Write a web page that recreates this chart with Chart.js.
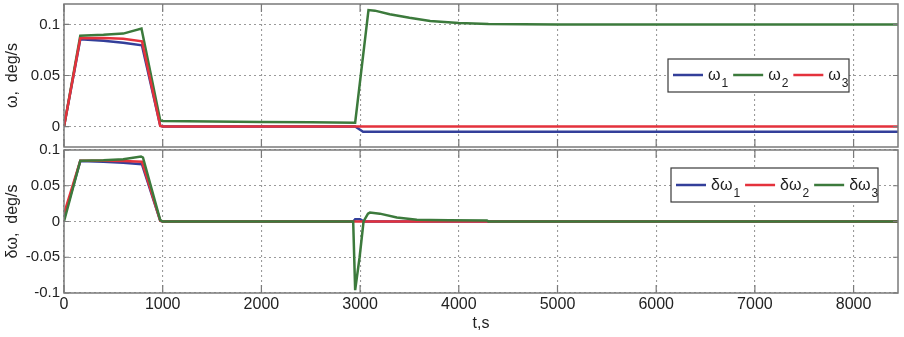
<!DOCTYPE html>
<html>
<head>
<meta charset="utf-8">
<script src="https://cdn.jsdelivr.net/npm/chart.js@4/dist/chart.umd.min.js"></script>
<style>
  body { margin: 0; background: #fff; }
  #wrap { position: relative; width: 904px; height: 337px; }
  canvas { position: absolute; left: 0; }
  #top { top: 0; }
  #bottom { top: 130px; }
</style>
</head>
<body>
<div id="wrap">
  <canvas id="top" width="904" height="150"></canvas>
  <canvas id="bottom" width="904" height="207"></canvas>
</div>
<script>
// axes
const xTicks = [0, 1000, 2000, 3000, 4000, 5000, 6000, 7000, 8000];
const xTickLabels = ["0", "1000", "2000", "3000", "4000", "5000", "6000", "7000", "8000"];
const topTicks = [0, 0.05, 0.1];
const topTickLabels = ["0", "0.05", "0.1"];
const botTicks = [-0.1, -0.05, 0, 0.05, 0.1];
const botTickLabels = ["-0.1", "-0.05", "0", "0.05", "0.1"];

// omega, deg/s (top panel)
const w1T = [0, 165, 400, 600, 790, 975, 1000, 2950, 3030, 8450];
const w1V = [0, 0.0855, 0.084, 0.082, 0.0795, 0.001, 0, 0, -0.005, -0.005];
const w2T = [0, 165, 400, 600, 785, 975, 1000, 1500, 2000, 2500, 2950, 3085, 3150, 3300, 3500, 3710, 4000, 4300, 5000, 8450];
const w2V = [0, 0.089, 0.0898, 0.091, 0.096, 0.006, 0.0055, 0.0049, 0.0045, 0.0042, 0.0038, 0.114, 0.1135, 0.110, 0.1065, 0.1034, 0.1015, 0.1005, 0.1, 0.1];
const w3T = [0, 165, 400, 600, 790, 975, 1000, 8450];
const w3V = [0, 0.0865, 0.0868, 0.086, 0.0835, 0.0005, 0, 0];

// delta omega, deg/s (bottom panel)
const d1T = [0, 165, 400, 600, 790, 975, 1000, 2930, 2950, 3000, 3040, 8450];
const d1V = [0.005, 0.0845, 0.0835, 0.082, 0.080, 0.001, 0, 0, 0.003, 0.003, 0, 0];
const d2T = [0, 165, 400, 600, 790, 975, 1000, 8450];
const d2V = [0.011, 0.085, 0.085, 0.0845, 0.0835, 0.001, 0, 0];
const d3T = [0, 165, 400, 600, 780, 800, 975, 1000, 2930, 2950, 2995, 3035, 3080, 3100, 3200, 3372, 3575, 3710, 3900, 4285, 4300, 8450];
const d3V = [0, 0.085, 0.0855, 0.087, 0.091, 0.0895, 0.002, 0, 0, -0.096, -0.05, 0, 0.011, 0.0125, 0.011, 0.0056, 0.0025, 0.002, 0.0018, 0.0015, 0, 0];

const BLUE = "#333f9a", GREEN = "#3c7a3c", RED = "#e4323c";
const FRAME = "#7a7a7a", TEXT = "#222";
const FONT = "Liberation Sans, Arial, sans-serif";

const pts = (t, v) => t.map((x, i) => ({ x: x, y: v[i] }));

function series(label, t, v, color, order) {
  return { label, data: pts(t, v), borderColor: color, borderWidth: 2.5,
           pointRadius: 0, tension: 0, fill: false, order };
}

// frame + inward ticks, matlab style
const frameTicks = {
  id: "frameTicks",
  afterDatasetsDraw(chart) {
    const { ctx, chartArea: a, scales } = chart;
    ctx.save();
    ctx.strokeStyle = FRAME;
    ctx.lineWidth = 1.2;
    ctx.beginPath();
    xTicks.forEach(v => {
      const px = scales.x.getPixelForValue(v);
      ctx.moveTo(px, a.bottom); ctx.lineTo(px, a.bottom - 8);
      ctx.moveTo(px, a.top); ctx.lineTo(px, a.top + 8);
    });
    scales.y.ticks.forEach(t => {
      const py = scales.y.getPixelForValue(t.value);
      ctx.moveTo(a.left, py); ctx.lineTo(a.left + 5, py);
      ctx.moveTo(a.right, py); ctx.lineTo(a.right - 5, py);
    });
    ctx.stroke();
    ctx.lineWidth = 1.5;
    ctx.strokeRect(a.left, a.top, a.right - a.left, a.bottom - a.top);
    ctx.restore();
  }
};

// legend with subscripts
const subLegend = {
  id: "subLegend",
  afterDraw(chart, args, opts) {
    const { ctx, chartArea: a } = chart;
    const x0 = a.left + opts.dx, y0 = a.top + opts.dy;
    ctx.save();
    ctx.fillStyle = "#fff";
    ctx.fillRect(x0, y0, opts.w, opts.h);
    ctx.strokeStyle = "#3a3a3a";
    ctx.lineWidth = 1.2;
    ctx.strokeRect(x0, y0, opts.w, opts.h);
    const yl = y0 + opts.lineY;
    let x = x0 + 5;
    opts.names.forEach((name, i) => {
      ctx.strokeStyle = opts.colors[i];
      ctx.lineWidth = 2.5;
      ctx.beginPath(); ctx.moveTo(x, yl); ctx.lineTo(x + 30, yl); ctx.stroke();
      x += 35;
      ctx.fillStyle = TEXT;
      ctx.textBaseline = "alphabetic";
      ctx.font = "16px " + FONT;
      ctx.fillText(name, x, yl + 4.5);
      x += ctx.measureText(name).width + 1;
      ctx.font = "12px " + FONT;
      ctx.fillText(opts.subs[i], x, yl + 12);
      x += ctx.measureText(opts.subs[i]).width + 5;
    });
    ctx.restore();
  }
};

function makeOptions(yMin, yMax, yTicks, yLabels, yTitle, showX, legend) {
  return {
    responsive: false,
    animation: false,
    devicePixelRatio: 1,
    layout: { padding: { top: showX ? 20 : 4, right: 6, left: 0, bottom: 0 } },
    plugins: { legend: { display: false }, tooltip: { enabled: false }, subLegend: legend },
    scales: {
      x: {
        type: "linear", min: 0, max: 8450,
        afterBuildTicks: s => { s.ticks = xTicks.map(v => ({ value: v })); },
        afterFit: s => { s.height = showX ? 44 : 3; s.paddingLeft = 0; s.paddingRight = 0; },
        grid: { color: "#9a9a9a", lineWidth: 1.1, drawTicks: false },
        border: { display: false, dash: [2, 3] },
        ticks: { display: showX, padding: 2, color: TEXT, font: { family: FONT, size: 16 },
                 maxRotation: 0, callback: (v, i) => xTickLabels[i] },
        title: { display: showX, text: "t,s", color: TEXT, font: { family: FONT, size: 16 },
                 padding: { top: 0, bottom: 4 } }
      },
      y: {
        min: yMin, max: yMax,
        afterBuildTicks: s => { s.ticks = yTicks.map(v => ({ value: v })); },
        afterFit: s => { s.width = 64; s.paddingTop = 0; s.paddingBottom = 0; },
        grid: { color: "#9a9a9a", lineWidth: 1.1, drawTicks: false },
        border: { display: false, dash: [2, 3] },
        ticks: { padding: 4, color: TEXT, font: { family: FONT, size: 15 },
                 callback: (v, i) => yLabels[i] },
        title: { display: true, text: yTitle, color: TEXT, font: { family: FONT, size: 16 },
                 padding: { top: 3, bottom: 0 } }
      }
    }
  };
}

new Chart(document.getElementById("top"), {
  type: "line",
  data: { datasets: [
    series("ω1", w1T, w1V, BLUE, 3),
    series("ω2", w2T, w2V, GREEN, 2),
    series("ω3", w3T, w3V, RED, 1)
  ] },
  options: makeOptions(-0.02, 0.12, topTicks, topTickLabels, "ω,  deg/s", false,
    { dx: 604, dy: 55, w: 181, h: 33, lineY: 16, names: ["ω", "ω", "ω"], subs: ["1", "2", "3"], colors: [BLUE, GREEN, RED] }),
  plugins: [frameTicks, subLegend]
});

new Chart(document.getElementById("bottom"), {
  type: "line",
  data: { datasets: [
    series("δω1", d1T, d1V, BLUE, 3),
    series("δω2", d2T, d2V, RED, 2),
    series("δω3", d3T, d3V, GREEN, 1)
  ] },
  options: makeOptions(-0.1, 0.1, botTicks, botTickLabels, "δω,  deg/s", true,
    { dx: 607, dy: 18, w: 207, h: 34, lineY: 17, names: ["δω", "δω", "δω"], subs: ["1", "2", "3"], colors: [BLUE, RED, GREEN] }),
  plugins: [frameTicks, subLegend]
});
</script>
</body>
</html>
